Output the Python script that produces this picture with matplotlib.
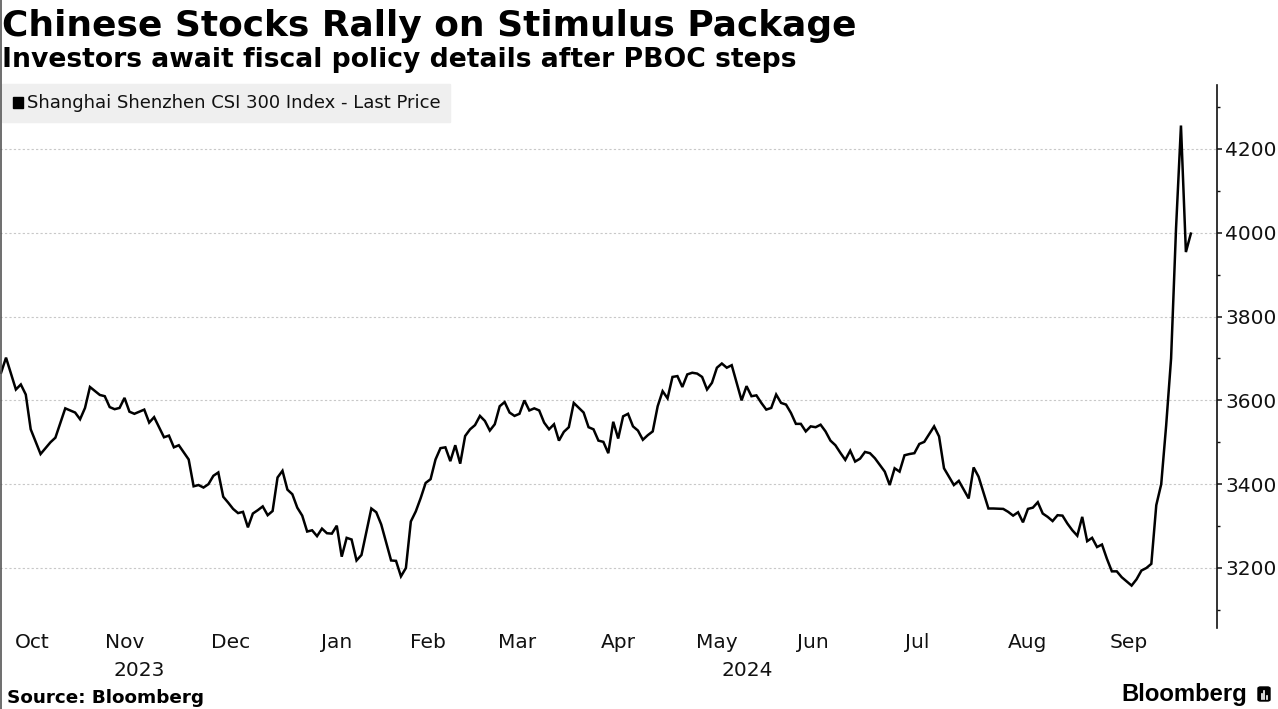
"""CSI 300 rally chart, Bloomberg style."""

import matplotlib

matplotlib.use("Agg")
import matplotlib.pyplot as plt
from matplotlib.lines import Line2D
from matplotlib.patches import FancyBboxPatch, Rectangle
from matplotlib.ticker import MultipleLocator

TITLE = "Chinese Stocks Rally on Stimulus Package"
SUBTITLE = "Investors await fiscal policy details after PBOC steps"
SERIES_LABEL = "Shanghai Shenzhen CSI 300 Index - Last Price"
SOURCE = "Source: Bloomberg"
LOGO = "Bloomberg"

# trading session number (0 = 9 Oct 2023) and index close
session = [
    2, 3, 5, 6, 7, 8, 10, 12, 13, 15, 17, 18, 19, 20, 22, 23, 24, 25, 26, 27,
    28, 29, 31, 32, 33, 35, 36, 37, 38, 40, 41, 42, 43, 44, 45, 46, 47, 48, 49, 50,
    51, 52, 53, 54, 55, 56, 57, 58, 59, 60, 61, 62, 63, 64, 65, 66, 67, 68, 69, 70,
    71, 72, 73, 74, 75, 77, 78, 79, 81, 82, 83, 84, 85, 86, 87, 88, 89, 90, 91, 92,
    93, 94, 95, 96, 97, 98, 99, 100, 101, 102, 103, 104, 105, 106, 107, 108, 109, 110, 111, 112,
    113, 114, 115, 116, 117, 118, 120, 121, 122, 123, 124, 125, 126, 127, 128, 129, 130, 131, 132, 133,
    134, 135, 136, 137, 138, 139, 140, 141, 142, 143, 144, 145, 146, 147, 148, 149, 150, 151, 152, 153,
    154, 155, 156, 157, 158, 159, 160, 161, 162, 163, 164, 165, 166, 167, 168, 169, 170, 171, 172, 173,
    174, 175, 176, 177, 178, 179, 180, 181, 182, 183, 184, 185, 186, 187, 188, 189, 191, 192, 193, 194,
    195, 196, 198, 199, 200, 202, 203, 205, 206, 207, 208, 209, 210, 211, 212, 213, 214, 215, 216, 217,
    218, 219, 220, 221, 222, 223, 224, 225, 226, 227, 228, 229, 231, 232, 233, 234, 235, 236, 237, 238,
    239, 240, 241, 242, 243,
]
close = [
    3666, 3702, 3626, 3638, 3614, 3531, 3472, 3500, 3511, 3581, 3571, 3555, 3582, 3632, 3613, 3610, 3584, 3579, 3582, 3606,
    3573, 3568, 3578, 3547, 3560, 3512, 3516, 3488, 3493, 3459, 3395, 3398, 3392, 3400, 3420, 3428, 3370, 3356, 3341, 3331,
    3334, 3297, 3330, 3338, 3347, 3326, 3336, 3416, 3432, 3387, 3376, 3344, 3325, 3287, 3290, 3276, 3294, 3283, 3282, 3301,
    3227, 3272, 3268, 3218, 3231, 3342, 3333, 3304, 3218, 3217, 3180, 3200, 3311, 3335, 3367, 3403, 3412, 3459, 3486, 3488,
    3455, 3493, 3449, 3515, 3531, 3541, 3563, 3551, 3528, 3543, 3586, 3596, 3571, 3563, 3568, 3600, 3576, 3581, 3576, 3547,
    3531, 3543, 3504, 3525, 3536, 3594, 3571, 3536, 3531, 3504, 3501, 3474, 3549, 3509, 3562, 3568, 3538, 3528, 3506, 3517,
    3526, 3586, 3622, 3605, 3656, 3658, 3632, 3662, 3666, 3664, 3656, 3626, 3642, 3678, 3688, 3678, 3684, 3642, 3600, 3634,
    3610, 3612, 3594, 3578, 3582, 3614, 3594, 3590, 3570, 3544, 3544, 3526, 3538, 3536, 3542, 3526, 3504, 3493, 3475, 3458,
    3480, 3454, 3461, 3477, 3474, 3462, 3446, 3430, 3398, 3438, 3430, 3469, 3472, 3474, 3496, 3501, 3538, 3514, 3438, 3418,
    3398, 3408, 3366, 3440, 3418, 3342, 3342, 3341, 3334, 3325, 3333, 3309, 3341, 3344, 3357, 3330, 3322, 3312, 3326, 3325,
    3306, 3290, 3277, 3322, 3264, 3272, 3250, 3256, 3222, 3192, 3192, 3178, 3158, 3173, 3194, 3200, 3210, 3350, 3400, 3540,
    3700, 4010, 4256, 3954, 3998,
]

# first trading session of each month (Oct 2023 .. Oct 2024) and of each year
month_names = ["Oct", "Nov", "Dec", "Jan", "Feb", "Mar", "Apr", "May", "Jun", "Jul", "Aug", "Sep"]
month_first_session = [0, 17, 39, 60, 82, 97, 118, 138, 158, 177, 200, 222, 241]
year_names = ["2023", "2024"]
year_first_session = [0, 60]

W, H = 1278, 709
PT = 72 / 100  # points per pixel at dpi 100
X_MIN, X_MAX = 1.78, 248.3


def fx(px):
    return px / W


def fy(py):
    return 1 - py / H


def fit_width(fig, txt, width_px):
    """Scale a text's font size so it spans width_px pixels."""
    renderer = fig.canvas.get_renderer()
    w = txt.get_window_extent(renderer).width
    txt.set_fontsize(txt.get_fontsize() * width_px / w)


def label_centre(lo, hi):
    return (max(lo, X_MIN) + min(hi, X_MAX)) / 2 - 1


def main():
    plt.rcParams["font.family"] = ["DejaVu Sans"]
    fig = plt.figure(figsize=(W / 100, H / 100), dpi=100)
    ax = fig.add_axes([fx(0), fy(628), fx(1217), fy(85) - fy(628)])

    ax.plot(session, close, color="black", lw=1.8, solid_joinstyle="miter", zorder=3)
    ax.set_xlim(X_MIN, X_MAX)
    ax.set_ylim(3056.8, 4352.7)

    # right-hand value axis
    for side in ("left", "top", "bottom"):
        ax.spines[side].set_visible(False)
    ax.spines["right"].set_color("#111111")
    ax.spines["right"].set_linewidth(1.2)
    ax.yaxis.tick_right()
    ax.yaxis.set_major_locator(MultipleLocator(200))
    ax.yaxis.set_minor_locator(MultipleLocator(100))
    ax.tick_params(axis="y", which="major", length=5 * PT, width=1.1, pad=3 * PT,
                   labelsize=14.5, colors="#111111")
    ax.tick_params(axis="y", which="minor", length=3 * PT, width=1.0, colors="#111111")
    ax.grid(axis="y", which="major", color="#c8c8c8", lw=0.8, ls=(0, (2, 2)))
    ax.set_xticks([])

    # month and year labels under the plot
    bounds = month_first_session
    for name, lo, hi in zip(month_names, bounds[:-1], bounds[1:]):
        ax.annotate(name, xy=(label_centre(lo, hi), 0), xycoords=("data", "axes fraction"),
                    xytext=(0, -15 * PT), textcoords="offset points",
                    ha="center", va="center", fontsize=14.5, color="#111111")
    ybounds = year_first_session + [X_MAX + 1]
    for name, lo, hi in zip(year_names, ybounds[:-1], ybounds[1:]):
        ax.annotate(name, xy=(label_centre(lo, hi), 0), xycoords=("data", "axes fraction"),
                    xytext=(0, -42 * PT), textcoords="offset points",
                    ha="center", va="center", fontsize=14.5, color="#111111")

    # titles
    title = fig.text(fx(2), fy(36), TITLE, fontsize=26, fontweight="bold", va="baseline")
    fit_width(fig, title, 855)
    subtitle = fig.text(fx(2), fy(67), SUBTITLE, fontsize=16, fontweight="bold", va="baseline")
    fit_width(fig, subtitle, 795)

    # legend
    fig.patches.append(Rectangle((fx(2), fy(122)), fx(448), fy(84) - fy(122),
                                 transform=fig.transFigure, color="#efefef", zorder=1))
    fig.patches.append(Rectangle((fx(13), fy(108)), fx(10), fy(97) - fy(108),
                                 transform=fig.transFigure, color="black", zorder=2))
    legend = fig.text(fx(27), fy(103), SERIES_LABEL, fontsize=13, va="center",
                      color="#111111", zorder=3)
    fit_width(fig, legend, 412)

    # footer
    source = fig.text(fx(7), fy(698), SOURCE, fontsize=13, fontweight="bold", va="center")
    fit_width(fig, source, 196)
    logo = fig.text(fx(1247), fy(694), LOGO, fontsize=15, fontweight="bold", va="center",
                    ha="right", family=["Liberation Sans", "DejaVu Sans"])
    fit_width(fig, logo, 127)
    fig.patches.append(FancyBboxPatch((fx(1258), fy(701)), fx(12), fy(687) - fy(701),
                                      boxstyle="round,pad=0.0,rounding_size=0.002",
                                      transform=fig.transFigure, color="black", zorder=2))
    for bx, top in ((1261.5, 694), (1264, 691), (1266.5, 696)):
        fig.lines.append(Line2D([fx(bx), fx(bx)], [fy(699), fy(top)], transform=fig.transFigure,
                                color="white", lw=1.2, zorder=3))

    # screenshot border on the left
    fig.lines.append(Line2D([fx(0.7), fx(0.7)], [0, 1], transform=fig.transFigure,
                            color="#555555", lw=1.2))

    fig.savefig("out.png", dpi=100)


if __name__ == "__main__":
    main()
